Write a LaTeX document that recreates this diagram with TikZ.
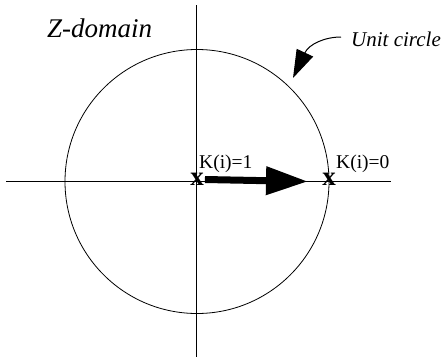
\documentclass[tikz,border=0pt]{standalone}
\usepackage{fontspec}
\setmainfont{Liberation Serif}
\usetikzlibrary{arrows.meta}
\tikzset{
  axis/.style={line width=0.9pt},
  marker/.style={inner sep=0pt, font=\fontsize{27}{27}\selectfont\bfseries},
  klabel/.style={inner sep=0pt, anchor=base west, font=\fontsize{19.5}{22}\selectfont},
}
\begin{document}
\begin{tikzpicture}[x=1pt,y=-1pt]
\useasboundingbox (0,0) rectangle (441,362);
% axes
\coordinate (xl) at (6,181.5);
\coordinate (xr) at (391,181.5);
\coordinate (yt) at (196,5);
\coordinate (yb) at (196,357);
\draw[axis] (xl) -- (xr);
\draw[axis] (yt) -- (yb);
% unit circle
\coordinate (O) at (197,181.5);
\draw[line width=0.8pt] (O) circle[radius=132];
% markers
\node[marker] (m1) at (197,179.5) {x};
\node[marker] (m2) at (329,179.5) {x};
% labels
\node[klabel] (k1) at (199,168) {K(i)=1};
\node[klabel] (k0) at (336,168) {K(i)=0};
% thick arrow
\coordinate (tip) at (308,181.5);
\draw[line width=7pt, -{Triangle[length=42pt,width=27pt]}] ([xshift=1pt]m1.east) -- (tip);
% titles
\node[inner sep=0pt, anchor=base west, font=\fontsize{27}{30}\selectfont\itshape] (zd) at (47,37) {Z-domain};
\node[inner sep=0pt, anchor=base west, font=\fontsize{21}{24}\selectfont\itshape] (uc) at (351,46.5) {Unit circle};
\coordinate (ucs) at (341,37);
\coordinate (uct) at (293,78);
\draw[line width=1pt, -{Triangle[length=28pt,width=18pt]}] (ucs) .. controls (325,37) and (309,44) .. (uct);
\end{tikzpicture}
\end{document}
